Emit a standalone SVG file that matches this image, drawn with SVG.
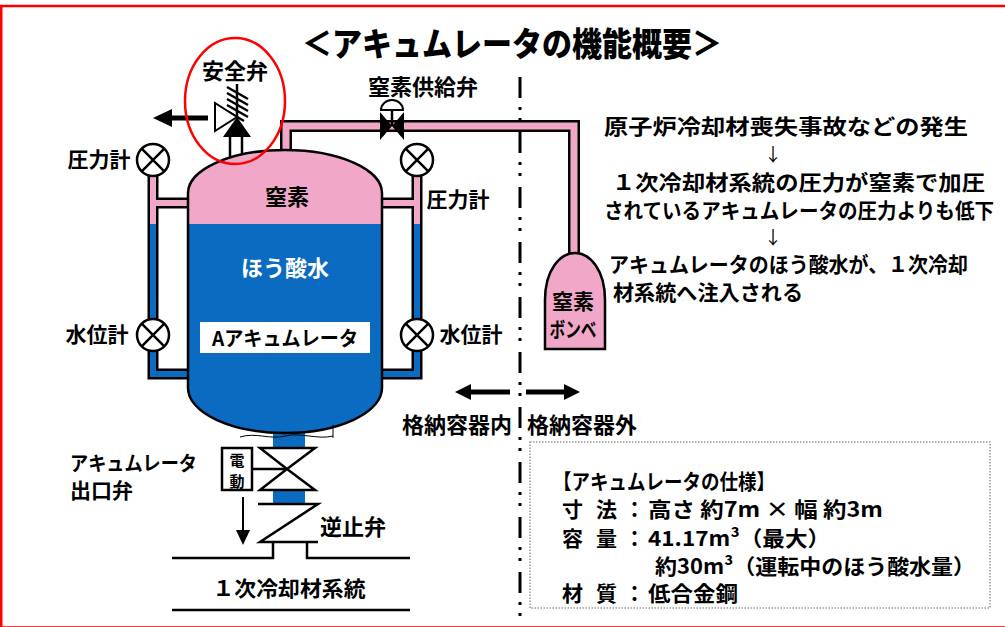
<svg xmlns="http://www.w3.org/2000/svg" width="1005" height="627" viewBox="0 0 1005 627">
  <defs>
    <!-- nitrogen gas above the boric water level, water below -->
    <linearGradient id="lvl" gradientUnits="userSpaceOnUse" x1="0" y1="0" x2="0" y2="627">
      <stop offset="0.3573" stop-color="#F1A7C7"/>
      <stop offset="0.3573" stop-color="#0B6BC0"/>
    </linearGradient>
    <g id="gauge">
      <circle r="16" fill="#fff" stroke="#000" stroke-width="2.5"/>
      <path d="M-11.3,-11.3 L11.3,11.3 M11.3,-11.3 L-11.3,11.3" stroke="#000" stroke-width="2.5"/>
    </g>
  </defs>
  <style>
    text { font-family: "Noto Sans CJK JP", "Noto Sans", sans-serif; font-weight: 700; dominant-baseline: central; fill: #000; }
    .ln { fill: none; stroke: #000; stroke-width: 2.5; }
    .pipeOut { fill: none; stroke: #000; }
    .mid { text-anchor: middle; }
    .end { text-anchor: end; }
  </style>

  <rect width="1005" height="627" fill="#fff"/>
  <!-- outer frame -->
  <rect x="1.25" y="6" width="1010" height="621.5" fill="none" stroke="#FF0000" stroke-width="2.5"/>

  <!-- containment boundary (dash-dot-dot) -->
  <line x1="520" y1="77" x2="520" y2="627" stroke="#000" stroke-width="3" stroke-dasharray="21 9 3 8 3 11"/>

  <text class="mid" x="512" y="42" font-size="33" textLength="420" lengthAdjust="spacingAndGlyphs" style="font-weight:900">＜アキュムレータの機能概要＞</text>

  <g id="connectors">
    <!-- nitrogen supply line -->
    <path class="pipeOut" d="M286,152 V126 H574 V254" stroke-width="12"/>
    <path d="M286,157 V126 H574 V259" fill="none" stroke="#F1A7C7" stroke-width="7"/>

    <!-- instrument legs -->
    <path class="pipeOut" d="M153,170 V374 H189 M153,203 H189" stroke-width="11"/>
    <path class="pipeOut" d="M417,170 V374 H381 M417,203 H381" stroke-width="11"/>
    <path d="M153,165 V374 H192 M153,203 H192" fill="none" stroke="url(#lvl)" stroke-width="6"/>
    <path d="M417,165 V374 H378 M417,203 H378" fill="none" stroke="url(#lvl)" stroke-width="6"/>

    <!-- relief line -->
    <rect x="230" y="136" width="12" height="22" fill="#fff"/>
    <path class="ln" d="M230,136 V158 M242,136 V158"/>
    <!-- discharge arrow -->
    <path d="M208,118 H170" stroke="#000" stroke-width="5"/>
    <polygon points="153,118 172,109 172,127" fill="#000"/>

    <!-- outlet piping -->
    <rect x="273" y="431" width="32" height="17" fill="#0B6BC0"/>
    <rect x="273" y="491" width="32" height="12" fill="#0B6BC0"/>
    <path class="ln" d="M172,558 H273 V542 M307,542 V558 H410"/>
    <path class="ln" d="M172,610 H410"/>
    <path class="ln" d="M252,469 H287"/>
    <path d="M243,497 V532" stroke="#000" stroke-width="2"/>
    <polygon points="236,530 250,530 243,545" fill="#000"/>

    <!-- inside / outside arrows -->
    <path d="M510,392 H468" stroke="#000" stroke-width="5"/>
    <polygon points="455,392 471,384 471,400" fill="#000"/>
    <path d="M526,392 H567" stroke="#000" stroke-width="5"/>
    <polygon points="580,392 564,384 564,400" fill="#000"/>
  </g>

  <g id="accumulator">
    <path d="M188,193 A97,43 0 0 1 382,193 L382,388 A97,45 0 0 1 188,388 Z" fill="url(#lvl)" stroke="#000" stroke-width="2.5"/>
    <path d="M240,437 C256,432 270,440 285,436 C300,432 318,440 333,436 M333,425 V438" fill="none" stroke="#000" stroke-width="1"/>
    <text class="mid" x="287" y="195" font-size="22">窒素</text>
    <text class="mid" x="285" y="266" font-size="22" style="fill:#fff">ほう酸水</text>
    <rect x="200" y="322" width="170" height="31" fill="#fff"/>
    <text class="mid" x="285" y="337" font-size="20" textLength="146" lengthAdjust="spacingAndGlyphs">Aアキュムレータ</text>
  </g>

  <g id="pressure-gauge-left">
    <use href="#gauge" x="153" y="160"/>
    <text class="mid" x="99" y="158" font-size="21">圧力計</text>
  </g>
  <g id="level-gauge-left">
    <use href="#gauge" x="153" y="335"/>
    <text class="mid" x="97" y="333" font-size="21">水位計</text>
  </g>
  <g id="pressure-gauge-right">
    <use href="#gauge" x="417" y="160"/>
    <text class="mid" x="458" y="198" font-size="21">圧力計</text>
  </g>
  <g id="level-gauge-right">
    <use href="#gauge" x="417" y="335"/>
    <text class="mid" x="471" y="333" font-size="21">水位計</text>
  </g>

  <g id="safety-valve">
    <path class="ln" d="M237,117 V84"/>
    <path class="ln" d="M227,87 L248,99 M227,93 L248,105 M227,99 L248,111 M227,105 L248,117 M227,111 L244,121" stroke-width="2"/>
    <polygon points="215,103 215,131 237,117" fill="#fff" stroke="#000" stroke-width="2"/>
    <polygon points="223,137 251,137 237,117" fill="#000"/>
    <text class="mid" x="235" y="69" font-size="22">安全弁</text>
    <ellipse cx="235" cy="101" rx="50" ry="63" fill="none" stroke="#FF0000" stroke-width="2.5"/>
  </g>

  <g id="n2-supply-valve">
    <path class="ln" d="M392,126 V110"/>
    <path d="M381,110 A11,10 0 0 1 403,110 Z" fill="#fff" stroke="#000" stroke-width="2"/>
    <polygon points="380,112 380,140 392,126" fill="#000"/>
    <polygon points="404,112 404,140 392,126" fill="#000"/>
    <text class="mid" x="423" y="85" font-size="22">窒素供給弁</text>
  </g>

  <g id="n2-cylinder">
    <path d="M545,349 V300 C545,270 560,253 575,253 C590,253 605,270 605,300 V349 Z" fill="#F1A7C7" stroke="#000" stroke-width="2.5"/>
    <text class="mid" x="573" y="300" font-size="21">窒素</text>
    <text class="mid" x="573" y="328" font-size="21" textLength="47" lengthAdjust="spacingAndGlyphs">ボンベ</text>
  </g>

  <g id="outlet-valve">
    <polygon points="260,448 315,448 287,469 315,490 260,490 287,469" fill="#fff" stroke="#000" stroke-width="2.5" stroke-linejoin="miter"/>
    <rect x="222" y="448" width="30" height="42" fill="#fff" stroke="#000" stroke-width="2.5"/>
    <text class="mid" x="237" y="459" font-size="15">電</text>
    <text class="mid" x="237" y="480" font-size="15">動</text>
    <text x="70" y="462" font-size="20" textLength="127" lengthAdjust="spacingAndGlyphs">アキュムレータ</text>
    <text x="70" y="489" font-size="21">出口弁</text>
  </g>

  <g id="check-valve">
    <path class="ln" d="M258,504 H318 L260,542 H318"/>
    <text x="320" y="525" font-size="22">逆止弁</text>
  </g>

  <g id="rcs">
    <text class="mid" x="289" y="587" font-size="21" textLength="153" lengthAdjust="spacingAndGlyphs">１次冷却材系統</text>
  </g>

  <g id="boundary-labels">
    <text class="end" x="512" y="423" font-size="22">格納容器内</text>
    <text x="527" y="423" font-size="22">格納容器外</text>
  </g>

  <g id="sequence">
    <text x="604" y="125" font-size="21" textLength="364" lengthAdjust="spacingAndGlyphs">原子炉冷却材喪失事故などの発生</text>
    <text class="mid" x="773" y="153" font-size="18" style="font-weight:400">↓</text>
    <text x="612" y="181" font-size="21" textLength="373" lengthAdjust="spacingAndGlyphs">１次冷却材系統の圧力が窒素で加圧</text>
    <text x="604" y="209" font-size="21" textLength="390" lengthAdjust="spacingAndGlyphs">されているアキュムレータの圧力よりも低下</text>
    <text class="mid" x="773" y="236" font-size="18" style="font-weight:400">↓</text>
    <text x="609" y="263" font-size="21" textLength="359" lengthAdjust="spacingAndGlyphs">アキュムレータのほう酸水が、１次冷却</text>
    <text x="613" y="291" font-size="21" textLength="190" lengthAdjust="spacingAndGlyphs">材系統へ注入される</text>
  </g>

  <g id="spec">
    <rect x="530" y="442" width="460" height="166" fill="#fff" stroke="#999" stroke-width="1.5" stroke-dasharray="1.5 1.5"/>
    <text x="553" y="480" font-size="21" textLength="222" lengthAdjust="spacingAndGlyphs">【アキュムレータの仕様】</text>
    <text x="562" y="508" font-size="21">寸</text>
    <text x="596" y="508" font-size="21">法</text>
    <text x="624" y="508" font-size="21">：</text>
    <text x="648" y="508" font-size="21" textLength="235" lengthAdjust="spacingAndGlyphs">高さ 約7m × 幅 約3m</text>
    <text x="562" y="537" font-size="21">容</text>
    <text x="596" y="537" font-size="21">量</text>
    <text x="624" y="537" font-size="21">：</text>
    <text x="648" y="537" font-size="21" textLength="182" lengthAdjust="spacingAndGlyphs">41.17m³（最大）</text>
    <text x="655" y="565" font-size="21" textLength="320" lengthAdjust="spacingAndGlyphs">約30m³（運転中のほう酸水量）</text>
    <text x="562" y="592" font-size="21">材</text>
    <text x="596" y="592" font-size="21">質</text>
    <text x="624" y="592" font-size="21">：</text>
    <text x="648" y="592" font-size="21" textLength="90" lengthAdjust="spacingAndGlyphs">低合金鋼</text>
  </g>
</svg>
